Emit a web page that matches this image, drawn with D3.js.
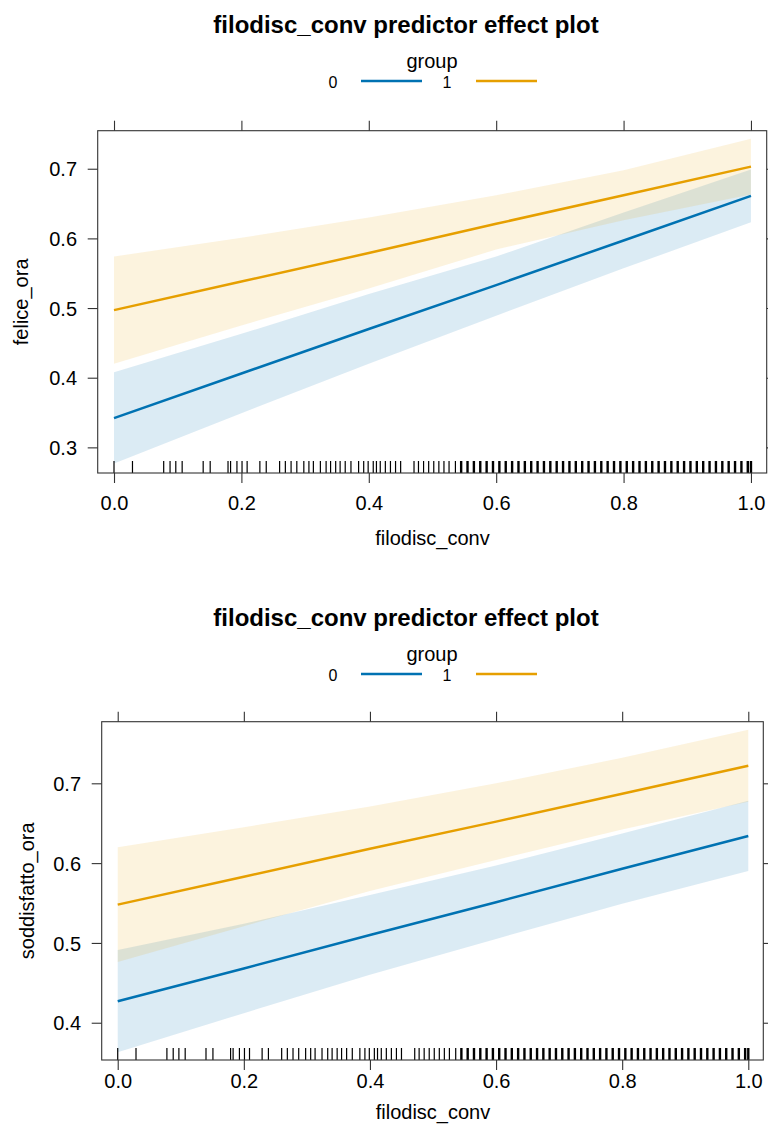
<!DOCTYPE html>
<html>
<head>
<meta charset="utf-8">
<script src="https://cdn.jsdelivr.net/npm/d3@7"></script>
<style>
  body { margin: 0; background: #fff; }
  text { font-family: "Liberation Sans", Arial, Helvetica, sans-serif; fill: #000; }
</style>
</head>
<body>
<script>
// predictor values where the effects were evaluated
var xs = [0, 0.2, 0.4, 0.6, 0.8, 1.0];
var groups = ["0", "1"];
var colors = ["#0072B2", "#E69F00"];

// felice_ora
var felFit0 = [0.342, 0.406, 0.470, 0.533, 0.597, 0.661];
var felLo0  = [0.277, 0.349, 0.420, 0.489, 0.557, 0.623];
var felHi0  = [0.408, 0.463, 0.520, 0.574, 0.637, 0.699];
var felFit1 = [0.497, 0.538, 0.579, 0.621, 0.662, 0.703];
var felLo1  = [0.420, 0.475, 0.528, 0.584, 0.626, 0.663];
var felHi1  = [0.574, 0.601, 0.630, 0.662, 0.698, 0.743];

// soddisfatto_ora
var sodFit0 = [0.427, 0.468, 0.510, 0.551, 0.593, 0.634];
var sodLo0  = [0.363, 0.412, 0.460, 0.505, 0.549, 0.590];
var sodHi0  = [0.491, 0.524, 0.560, 0.597, 0.637, 0.678];
var sodFit1 = [0.548, 0.583, 0.618, 0.652, 0.687, 0.722];
var sodLo1  = [0.476, 0.521, 0.565, 0.604, 0.642, 0.677];
var sodHi1  = [0.620, 0.645, 0.671, 0.700, 0.732, 0.767];

// observed filodisc_conv values (rug)
var rugSparse = [0, 0.029, 0.078, 0.088, 0.097, 0.107, 0.140, 0.151, 0.179, 0.183,
  0.193, 0.201, 0.209, 0.229, 0.239, 0.260, 0.269, 0.278, 0.287, 0.298, 0.306,
  0.313, 0.324, 0.333, 0.340, 0.348, 0.355, 0.363, 0.372, 0.384, 0.392, 0.399,
  0.407, 0.412, 0.418, 0.426, 0.434, 0.442, 0.450, 0.471, 0.478, 0.486, 0.494,
  0.502, 0.510, 0.518, 0.526, 0.536];
var rugDense = [0.545, 0.555, 0.565, 0.575, 0.585, 0.595, 0.605, 0.615, 0.625,
  0.635, 0.645, 0.655, 0.665, 0.675, 0.685, 0.695, 0.705, 0.715, 0.725, 0.735,
  0.745, 0.755, 0.765, 0.775, 0.785, 0.795, 0.805, 0.815, 0.825, 0.835, 0.845,
  0.855, 0.865, 0.875, 0.885, 0.895, 0.905, 0.915, 0.925, 0.935, 0.945, 0.955,
  0.965, 0.975, 0.985, 0.995, 1.0];

var xTicks = [0, 0.2, 0.4, 0.6, 0.8, 1.0];

var panels = [
  {ylab: "felice_ora", yTicks: [0.3, 0.4, 0.5, 0.6, 0.7],
   fit: [felFit0, felFit1], lo: [felLo0, felLo1], hi: [felHi0, felHi1],
   off: 0, left: 97.7, right: 766.7, top: 130.7, bottom: 473,
   xdom: [-0.0256, 1.0247], ydom: [0.2632, 0.7546],
   xTickY: 510, xLabY: 545, yLabX: 21, yTickX: 77},
  {ylab: "soddisfatto_ora", yTicks: [0.4, 0.5, 0.6, 0.7],
   fit: [sodFit0, sodFit1], lo: [sodLo0, sodLo1], hi: [sodHi0, sodHi1],
   off: 593, left: 101.7, right: 763.3, top: 721.7, bottom: 1060,
   xdom: [-0.0254, 1.0238], ydom: [0.3533, 0.7772],
   xTickY: 1088, xLabY: 1119, yLabX: 27, yTickX: 81}
];

var W = 768, H = 1135;
var svg = d3.select("body").append("svg")
  .attr("width", W).attr("height", H);

panels.forEach(function(p) {
  var g = svg.append("g");
  var x = d3.scaleLinear().domain(p.xdom).range([p.left, p.right]);
  var y = d3.scaleLinear().domain(p.ydom).range([p.bottom, p.top]);

  // title + key
  g.append("text").attr("x", 406).attr("y", 33 + p.off)
    .attr("text-anchor", "middle").attr("font-size", 24).attr("font-weight", "bold")
    .text("filodisc_conv predictor effect plot");
  g.append("text").attr("x", 432).attr("y", 68 + p.off)
    .attr("text-anchor", "middle").attr("font-size", 20).text("group");
  var keyX = [333, 447], keyL = [361, 476];
  groups.forEach(function(k, i) {
    g.append("text").attr("x", keyX[i]).attr("y", 88 + p.off)
      .attr("text-anchor", "middle").attr("font-size", 16).text(k);
    g.append("line").attr("x1", keyL[i]).attr("x2", keyL[i] + 61)
      .attr("y1", 81 + p.off).attr("y2", 81 + p.off)
      .attr("stroke", colors[i]).attr("stroke-width", 2.5);
  });

  // confidence bands
  var area = d3.area().x(function(d) { return x(d[0]); })
    .y0(function(d) { return y(d[1]); }).y1(function(d) { return y(d[2]); });
  var line = d3.line().x(function(d) { return x(d[0]); }).y(function(d) { return y(d[1]); });

  groups.forEach(function(k, i) {
    var band = xs.map(function(v, j) { return [v, p.lo[i][j], p.hi[i][j]]; });
    g.append("path").attr("d", area(band))
      .attr("fill", colors[i]).attr("fill-opacity", i === 0 ? 0.14 : 0.13);
  });
  groups.forEach(function(k, i) {
    var fit = xs.map(function(v, j) { return [v, p.fit[i][j]]; });
    g.append("path").attr("d", line(fit)).attr("fill", "none")
      .attr("stroke", colors[i]).attr("stroke-width", 2.5);
  });

  // rug
  g.selectAll(".rs").data(rugSparse).enter().append("line")
    .attr("x1", function(d) { return x(d); }).attr("x2", function(d) { return x(d); })
    .attr("y1", p.bottom).attr("y2", p.bottom - 12)
    .attr("stroke", "#000").attr("stroke-width", 1.2);
  g.selectAll(".rd").data(rugDense).enter().append("line")
    .attr("x1", function(d) { return x(d); }).attr("x2", function(d) { return x(d); })
    .attr("y1", p.bottom).attr("y2", p.bottom - 12)
    .attr("stroke", "#000").attr("stroke-width", 2.4);

  // axes (ticks on all four sides, labels bottom/left)
  var fmt = d3.format(".1f");
  var axB = g.append("g").attr("transform", "translate(0," + p.bottom + ")")
    .call(d3.axisBottom(x).tickValues(xTicks).tickSize(10).tickFormat(fmt));
  var axT = g.append("g").attr("transform", "translate(0," + p.top + ")")
    .call(d3.axisTop(x).tickValues(xTicks).tickSize(10).tickFormat(""));
  var axL = g.append("g").attr("transform", "translate(" + p.left + ",0)")
    .call(d3.axisLeft(y).tickValues(p.yTicks).tickSize(10).tickFormat(fmt));
  var axR = g.append("g").attr("transform", "translate(" + p.right + ",0)")
    .call(d3.axisRight(y).tickValues(p.yTicks).tickSize(10).tickFormat(""));
  [axB, axT, axL, axR].forEach(function(a) {
    a.select(".domain").remove();
    a.selectAll(".tick line").attr("stroke", "#333").attr("stroke-width", 1.1);
    a.selectAll("text").attr("font-size", 20).attr("fill", "#000")
      .attr("font-family", "Liberation Sans, Arial, Helvetica, sans-serif");
  });
  axB.selectAll("text").attr("y", null).attr("dy", null)
    .attr("y", p.xTickY - p.bottom);
  axL.selectAll("text").attr("x", p.yTickX - p.left).attr("dy", "0.36em");

  g.append("rect").attr("x", p.left).attr("y", p.top)
    .attr("width", p.right - p.left).attr("height", p.bottom - p.top)
    .attr("fill", "none").attr("stroke", "#333").attr("stroke-width", 1.1);

  g.append("text").attr("x", (x(0) + x(1)) / 2).attr("y", p.xLabY)
    .attr("text-anchor", "middle").attr("font-size", 20).text("filodisc_conv");
  g.append("text")
    .attr("transform", "translate(" + p.yLabX + "," + ((p.top + p.bottom) / 2) + ") rotate(-90)")
    .attr("text-anchor", "middle").attr("dy", "0.35em").attr("font-size", 20).text(p.ylab);
});
</script>
</body>
</html>
